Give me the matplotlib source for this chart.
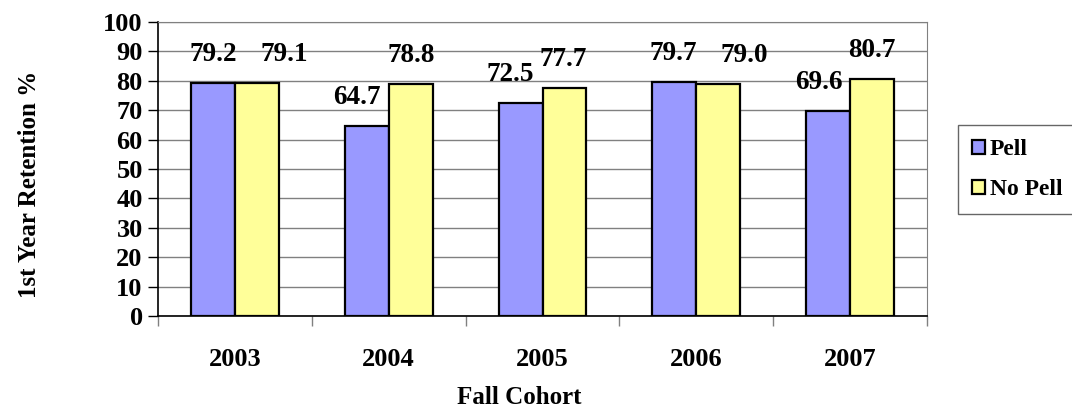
import numpy as np
import matplotlib.pyplot as plt
from matplotlib.patches import Patch

# data
years = ['2003', '2004', '2005', '2006', '2007']
pell = [79.2, 64.7, 72.5, 79.7, 69.6]
no_pell = [79.1, 78.8, 77.7, 79.0, 80.7]

# label nudges in pixels (labels were hand-moved in the original)
pell_dx = [0, -10, -10, -1, -9]
nopell_dx = [27, 0, -1, 26, 0]

plt.rcParams['font.family'] = ['Liberation Serif', 'DejaVu Serif']
plt.rcParams['font.weight'] = 'bold'

fig = plt.figure(figsize=(10.72, 4.09), dpi=100)
W, H = 1072, 409
ax = fig.add_axes([158 / W, (H - 316) / H, (927 - 158) / W, (316 - 22) / H])

x = np.arange(len(years))
w = 0.286
b1 = ax.bar(x - w / 2, pell, w, color='#9999FF', edgecolor='black', linewidth=1.6, zorder=3)
b2 = ax.bar(x + w / 2, no_pell, w, color='#FFFF99', edgecolor='black', linewidth=1.6, zorder=3)

px = 0.72  # points per pixel
for bars, vals, dxs in [(b1, pell, pell_dx), (b2, no_pell, nopell_dx)]:
    for r, v, dx in zip(bars, vals, dxs):
        ax.annotate(f'{v:.1f}', (r.get_x() + r.get_width() / 2, v),
                    xytext=(dx * px, 16 * px), textcoords='offset points',
                    ha='center', va='bottom', fontsize=19.5, fontweight='bold')

ax.set_xlim(-0.5, 4.5)
ax.set_ylim(0, 100)
ax.set_yticks(range(0, 101, 10))
ax.tick_params(axis='y', labelsize=19, length=7, width=1, pad=4)
ax.yaxis.grid(True, color='#808080', linewidth=1, zorder=0)

ax.set_xticks(np.arange(-0.5, 5, 1))
ax.set_xticklabels([''] * 6)
ax.tick_params(axis='x', which='major', length=7, width=1, color='#808080')
ax.set_xticks(x, minor=True)
ax.set_xticklabels(years, minor=True)
ax.tick_params(axis='x', which='minor', length=0, labelsize=19, pad=23)

for s in ['left', 'bottom']:
    ax.spines[s].set_color('black')
    ax.spines[s].set_linewidth(1.2)
ax.spines['top'].set_color('#808080')
ax.spines['right'].set_color('#808080')

fig.text(519 / W, 1 - 398 / H, 'Fall Cohort', fontsize=18, fontweight='bold',
         ha='center', va='center')
fig.text(30 / W, 1 - 184 / H, '1st Year Retention %', fontsize=18, fontweight='bold',
         ha='center', va='center', rotation=90)

handles = [Patch(facecolor='#9999FF', edgecolor='black', linewidth=1.6, label='Pell'),
           Patch(facecolor='#FFFF99', edgecolor='black', linewidth=1.6, label='No Pell')]
leg = fig.legend(handles=handles, loc='upper left', bbox_to_anchor=(958 / W, 1 - 125 / H),
                 fontsize=17, frameon=True, fancybox=False, handlelength=0.55, handleheight=0.55,
                 handletextpad=0.2, labelspacing=0.8, borderpad=0.6, borderaxespad=0)
leg.get_frame().set_edgecolor('#404040')
leg.get_frame().set_linewidth(1)
for t in leg.get_texts():
    t.set_fontweight('bold')

fig.savefig('out.png', dpi=100)
